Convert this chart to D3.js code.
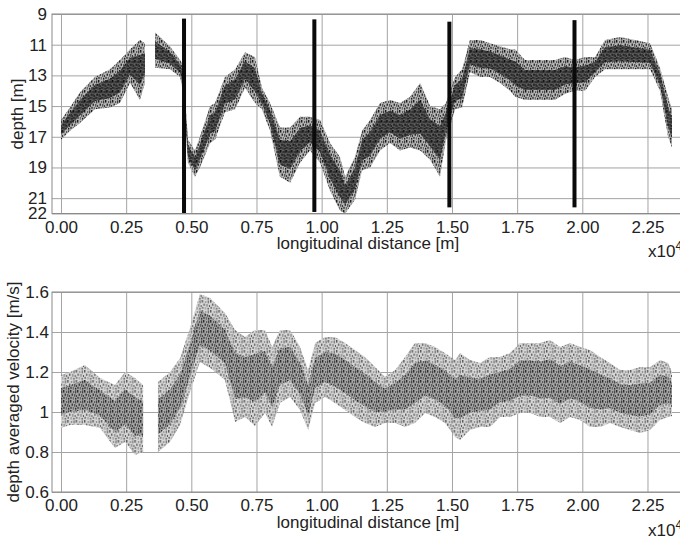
<!DOCTYPE html>
<html>
<head>
<meta charset="utf-8">
<script src="https://cdnjs.cloudflare.com/ajax/libs/d3/7.8.5/d3.min.js"></script>
<style>
body { margin: 0; background: #fff; }
svg { display: block; }
.tick text { font-family: "Liberation Sans", Arial, sans-serif; font-size: 17px; fill: #222; }
.lbl { font-family: "Liberation Sans", Arial, sans-serif; font-size: 17px; fill: #222; }
</style>
</head>
<body>
<svg width="680" height="540"></svg>
<script>
// distances along the river [m] where the cloud envelope was read, null = gap in survey
var depthDist = [0, 345, 730, 1300, 1880, 2260, 2650, 3030, 3220, null, 3610, 4180, 4570, 4680,
    4870, 5140, 5330, 5720, 5910, 6290, 6680, 7060, 7440, 7710, 8020, 8400, 8790, 9170, 9550,
    9940, 10320, 10700, 10900, 11280, 11550, 11860, 12240, 12620, 13010, 13390, 13780, 14160,
    14540, 14770, 15120, 15390, 15690, 16080, 16460, 16840, 17230, 17420, 17800, 18380, 18950,
    19340, 19720, 20110, 20490, 20870, 21450, 22020, 22600, 22980, 23290, 23440];
var depthLo = [15.9, 15.1, 14.1, 13.1, 12.6, 12.0, 11.3, 10.7, 10.9, null, 10.2, 11.1, 12.0, 12.3,
    17.2, 17.9, 17.0, 15.0, 14.8, 13.1, 12.6, 11.5, 11.8, 13.8, 14.8, 16.4, 16.4, 15.7, 15.7,
    15.9, 17.4, 18.3, 19.6, 18.3, 16.6, 15.9, 14.8, 14.6, 14.8, 14.4, 13.5, 15.0,
    15.2, 14.8, 13.1, 12.6, 10.7, 10.7, 10.9, 11.1, 11.3, 11.3, 12.0, 12.0, 12.0,
    11.8, 12.0, 11.8, 11.8, 10.7, 10.5, 10.7, 10.9, 12.5, 14.4, 15.2];
var depthHi = [17.2, 16.6, 16.1, 15.2, 15.1, 14.8, 13.5, 14.6, 13.5, null, 12.5, 12.6, 13.1, 14.0,
    18.7, 19.6, 19.0, 17.4, 17.2, 15.4, 15.2, 13.8, 14.8, 15.2, 16.6, 19.6, 20.0, 18.7, 17.9,
    18.7, 20.5, 21.8, 22.0, 21.1, 19.2, 19.0, 17.9, 17.4, 17.9, 17.7, 17.9, 18.5,
    19.6, 17.2, 15.2, 15.1, 12.8, 13.1, 13.1, 13.5, 14.0, 14.4, 14.6, 14.6, 14.6,
    14.2, 14.0, 14.0, 13.1, 12.6, 12.6, 12.6, 12.6, 14.0, 17.0, 17.7];

// section boundaries (black bars) and their vertical extent [m depth]
var barDist = [4720, 9720, 14900, 19700];
var barTop = [9.3, 9.35, 9.5, 9.4];
var barBottom = [22, 21.9, 21.6, 21.6];

var velDist = [0, 345, 920, 1500, 2070, 2460, 2840, 3150, null, 3720, 4180, 4570, 4950, 5330,
    5720, 6290, 6680, 7060, 7440, 7830, 8100, 8400, 8790, 9170, 9480, 9750, 10130, 10510,
    10900, 11280, 11660, 12050, 12430, 12820, 13200, 13580, 13970, 14350, 14730, 15120, 15310,
    15690, 16080, 16460, 16840, 17230, 17610, 18000, 18380, 18760, 19150, 19530, 19910, 20300,
    20680, 21060, 21450, 21830, 22220, 22600, 22980, 23290, 23440];
var velLo = [0.92, 0.935, 0.935, 0.92, 0.82, 0.85, 0.785, 0.80, null, 0.80, 0.85, 0.935, 1.10, 1.25,
    1.22, 1.16, 0.95, 0.975, 0.93, 0.995, 0.925, 1.045, 1.075, 1.01, 0.91, 1.045, 1.075, 1.045,
    1.01, 0.975, 0.945, 0.925, 0.945, 0.945, 0.925, 0.945, 0.995, 0.975, 0.945, 0.875, 0.86,
    0.91, 0.925, 0.925, 0.975, 0.975, 0.995, 0.995, 0.975, 0.975, 0.945, 0.975, 0.96, 0.925,
    0.925, 0.945, 0.925, 0.91, 0.895, 0.91, 0.96, 0.975, 0.98];
var velHi = [1.185, 1.20, 1.235, 1.17, 1.135, 1.20, 1.17, 1.135, null, 1.15, 1.20, 1.27, 1.42, 1.59,
    1.57, 1.495, 1.41, 1.375, 1.41, 1.41, 1.325, 1.41, 1.41, 1.325, 1.21, 1.345, 1.375, 1.375,
    1.345, 1.31, 1.275, 1.225, 1.175, 1.21, 1.275, 1.345, 1.345, 1.325, 1.295, 1.26, 1.295,
    1.26, 1.245, 1.275, 1.275, 1.295, 1.345, 1.345, 1.345, 1.36, 1.325, 1.345, 1.325, 1.31,
    1.275, 1.245, 1.21, 1.21, 1.225, 1.225, 1.26, 1.245, 1.20];

var xTicks = [0, 2500, 5000, 7500, 10000, 12500, 15000, 17500, 20000, 22500];
var depthTicks = [9, 11, 13, 15, 17, 19, 21, 22];
var velTicks = [0.6, 0.8, 1, 1.2, 1.4, 1.6];

var svg = d3.select("svg");
var defs = svg.append("defs");

// speckle textures standing in for the dense point clouds
// marks: [x, y, w, h, shade]
var speckle = [[0, 0, 1.4, 2.6], [3, 1, 1.2, 2], [5.2, 0.4, 1, 3], [1.6, 3.6, 1.3, 2.2],
    [4, 4, 1.4, 2.8], [6.2, 5, 1, 2], [0.4, 6.8, 1.2, 2], [2.8, 7, 1, 2.6], [5, 7.8, 1.3, 1.8]];
function dotPattern(id, bg, c1, c2, sx) {
    var p = defs.append("pattern").attr("id", id)
        .attr("patternUnits", "userSpaceOnUse")
        .attr("width", 7 * sx).attr("height", 10);
    p.append("rect").attr("width", 7 * sx).attr("height", 10).attr("fill", bg);
    speckle.forEach(function(m, i) {
        p.append("rect").attr("x", m[0] * sx).attr("y", m[1])
            .attr("width", m[2]).attr("height", m[3])
            .attr("fill", i % 3 == 1 ? c2 : c1);
    });
}
dotPattern("topOuter", "#b4b4b4", "#1e1e1e", "#5a5a5a", 1);
dotPattern("topInner", "#5e5e5e", "#0c0c0c", "#2a2a2a", 0.8);
dotPattern("velOuter", "#d6d6d6", "#5a5a5a", "#8c8c8c", 1.2);
dotPattern("velInner", "#a4a4a4", "#2e2e2e", "#5c5c5c", 1);

defs.append("filter").attr("id", "soft")
    .append("feGaussianBlur").attr("stdDeviation", 0.45);

var x = d3.scaleLinear().domain([-345, 24400]).range([52, 697]);

function panel(opt) {
    var y = d3.scaleLinear().domain(opt.domain).range(opt.range);
    var top = Math.min(opt.range[0], opt.range[1]),
        bot = Math.max(opt.range[0], opt.range[1]);
    var g = svg.append("g");

    // grid
    g.append("g").attr("transform", "translate(0," + bot + ")")
        .call(d3.axisBottom(x).tickValues(xTicks).tickSize(-(bot - top)).tickFormat(""))
        .call(function(s) { s.select(".domain").remove(); })
        .selectAll("line").attr("stroke", "#a4a4a4");
    g.append("g").attr("transform", "translate(52,0)")
        .call(d3.axisLeft(y).tickValues(opt.ticks).tickSize(-700).tickFormat(""))
        .call(function(s) { s.select(".domain").remove(); })
        .selectAll("line").attr("stroke", "#a4a4a4");

    // the point cloud: full envelope and denser core
    var rows = opt.dist.map(function(d, i) {
        return { d: d, lo: opt.lo[i], hi: opt.hi[i] };
    });
    var outer = d3.area()
        .defined(function(r) { return r.d != null; })
        .x(function(r) { return x(r.d); })
        .y0(function(r) { return y(r.lo); })
        .y1(function(r) { return y(r.hi); });
    var inner = d3.area()
        .defined(function(r) { return r.d != null; })
        .x(function(r) { return x(r.d); })
        .y0(function(r) { return y(r.lo + (r.hi - r.lo) * 0.25); })
        .y1(function(r) { return y(r.hi - (r.hi - r.lo) * 0.25); });
    var cloud = g.append("g").attr("filter", "url(#soft)");
    cloud.append("path").attr("d", outer(rows)).attr("fill", "url(#" + opt.pat[0] + ")");
    cloud.append("path").attr("d", inner(rows)).attr("fill", "url(#" + opt.pat[1] + ")");

    if (opt.bars) {
        g.selectAll(".bar").data(barDist).enter().append("rect")
            .attr("class", "bar")
            .attr("x", function(d) { return x(d) - 2; })
            .attr("width", 4)
            .attr("y", function(d, i) { return y(barTop[i]); })
            .attr("height", function(d, i) { return y(barBottom[i]) - y(barTop[i]); })
            .attr("fill", "#0a0a0a");
    }

    // frame
    g.append("rect").attr("x", 52).attr("y", top)
        .attr("width", 700).attr("height", bot - top)
        .attr("fill", "none").attr("stroke", "#8a8a8a");

    // tick labels
    g.append("g").attr("transform", "translate(0," + bot + ")")
        .call(d3.axisBottom(x).tickValues(xTicks).tickSize(0).tickPadding(opt.xpad)
            .tickFormat(function(d) { return d3.format(".2f")(d / 10000); }))
        .call(function(s) { s.select(".domain").remove(); });
    g.append("g").attr("transform", "translate(52,0)")
        .call(d3.axisLeft(y).tickValues(opt.ticks).tickSize(0).tickPadding(opt.ypad)
            .tickFormat(function(d) { return d; }))
        .call(function(s) { s.select(".domain").remove(); });

    g.append("text").attr("class", "lbl")
        .attr("x", 368).attr("y", opt.xlabY)
        .attr("text-anchor", "middle")
        .text("longitudinal distance [m]");
    var ex = g.append("text").attr("class", "lbl")
        .attr("x", 648).attr("y", opt.expY).text("x10");
    ex.append("tspan").attr("dy", -7).attr("font-size", 12).text("4");

    g.append("text").attr("class", "lbl")
        .attr("transform", "translate(" + opt.ylabX + "," + opt.ylabY + ") rotate(-90)")
        .attr("text-anchor", "middle")
        .attr("dy", "0.35em")
        .text(opt.ylab);
}

panel({
    domain: [9, 22], range: [14, 213.5], ticks: depthTicks,
    dist: depthDist, lo: depthLo, hi: depthHi, pat: ["topOuter", "topInner"], bars: true,
    xpad: 7, ypad: 5, xlabY: 249, expY: 257,
    ylab: "depth [m]", ylabX: 17, ylabY: 114
});
panel({
    domain: [0.6, 1.6], range: [492, 292], ticks: velTicks,
    dist: velDist, lo: velLo, hi: velHi, pat: ["velOuter", "velInner"], bars: false,
    xpad: 6.5, ypad: 3, xlabY: 528, expY: 536,
    ylab: "depth averaged velocity [m/s]", ylabX: 13, ylabY: 392
});
</script>
</body>
</html>
